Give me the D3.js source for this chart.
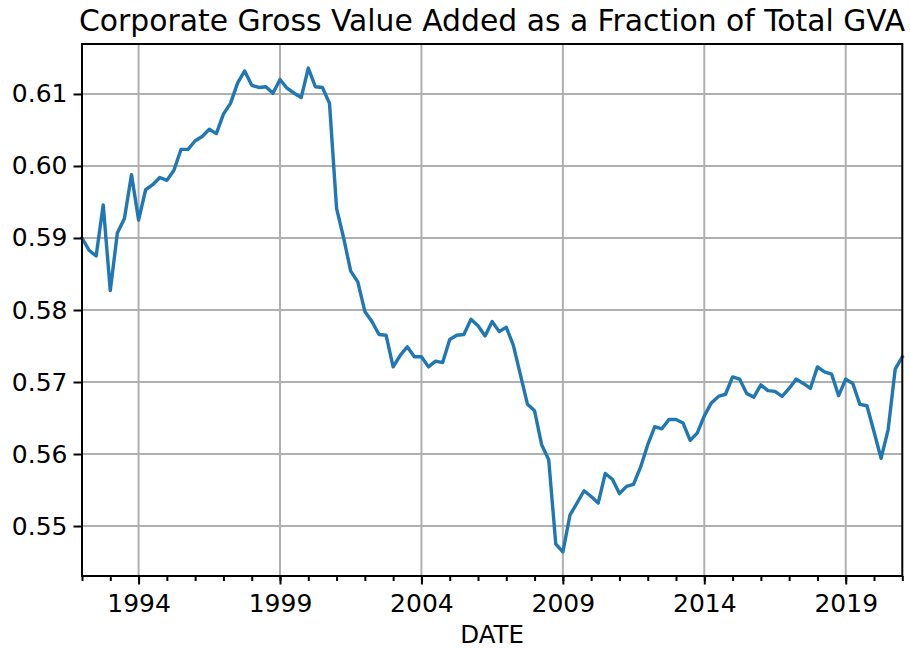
<!DOCTYPE html>
<html>
<head>
<meta charset="utf-8">
<script src="https://cdn.jsdelivr.net/npm/d3@7/dist/d3.min.js"></script>
<style>
  html, body { margin: 0; padding: 0; background: #fff; }
  svg { display: block; }
  text { font-family: "DejaVu Sans", sans-serif; fill: #000; }
</style>
</head>
<body>
<svg id="chart" width="910" height="649"></svg>
<script>
// Quarterly data, 1992Q1 .. 2021Q1
const startYear = 1992;
const values = [
  0.5900, 0.5883, 0.5875, 0.5946, 0.5827, 0.5907, 0.5927, 0.5988,
  0.5925, 0.5967, 0.5974, 0.5984, 0.5980, 0.5994, 0.6023, 0.6023,
  0.6035, 0.6041, 0.6051, 0.6045, 0.6072, 0.6087, 0.6115, 0.6132,
  0.6112, 0.6109, 0.6110, 0.6101, 0.6120, 0.6108, 0.6101, 0.6095,
  0.6136, 0.6110, 0.6109, 0.6087, 0.5941, 0.5900, 0.5854, 0.5839,
  0.5798, 0.5784, 0.5766, 0.5765, 0.5721, 0.5737, 0.5749, 0.5735,
  0.5735, 0.5721, 0.5729, 0.5727, 0.5759, 0.5765, 0.5766, 0.5787,
  0.5778, 0.5764, 0.5784, 0.5770, 0.5776, 0.5751, 0.5710, 0.5669,
  0.5660, 0.5613, 0.5592, 0.5475, 0.5464, 0.5515, 0.5532, 0.5549,
  0.5541, 0.5532, 0.5573, 0.5565, 0.5545, 0.5555, 0.5558, 0.5582,
  0.5613, 0.5638, 0.5635, 0.5648, 0.5648, 0.5643, 0.5619, 0.5629,
  0.5653, 0.5671, 0.5680, 0.5683, 0.5707, 0.5704, 0.5684, 0.5679,
  0.5696, 0.5688, 0.5687, 0.5680, 0.5691, 0.5704, 0.5698, 0.5691,
  0.5721, 0.5714, 0.5711, 0.5681, 0.5704, 0.5698, 0.5669, 0.5667,
  0.5631, 0.5594, 0.5634, 0.5718, 0.5735
];
const dates = values.map((v, i) => startYear + i / 4);
const xMajorTicks = [1994, 1999, 2004, 2009, 2014, 2019];
const xMinorTicks = d3.range(1992, 2022);
const yTicks = [0.55, 0.56, 0.57, 0.58, 0.59, 0.60, 0.61];
const titleText = "Corporate Gross Value Added as a Fraction of Total GVA";
const xLabelText = "DATE";

const svg = d3.select("#chart");
const L = 82, R = 902.3, T = 44, B = 576;

const x = d3.scaleLinear().domain([dates[0], dates[dates.length - 1]]).range([L, R]);
const y = d3.scaleLinear().domain([0.54306, 0.61694]).range([B, T]);

// grid
const g = svg.append("g");
g.selectAll("line.vg").data(xMajorTicks).enter().append("line")
  .attr("x1", d => x(d)).attr("x2", d => x(d)).attr("y1", T).attr("y2", B)
  .attr("stroke", "#b0b0b0").attr("stroke-width", 2);
g.selectAll("line.hg").data(yTicks).enter().append("line")
  .attr("x1", L).attr("x2", R).attr("y1", d => y(d)).attr("y2", d => y(d))
  .attr("stroke", "#b0b0b0").attr("stroke-width", 2);

// line
const line = d3.line().x((d, i) => x(dates[i])).y(d => y(d));
svg.append("path").datum(values)
  .attr("d", line).attr("fill", "none")
  .attr("stroke", "#1f77b4").attr("stroke-width", 3.4)
  .attr("stroke-linejoin", "round").attr("stroke-linecap", "square");

// axes
const xAxis = d3.axisBottom(x).tickValues(xMajorTicks).tickFormat(d3.format("d"))
  .tickSize(8.5).tickPadding(10);
const xMinor = d3.axisBottom(x).tickValues(xMinorTicks).tickFormat("").tickSize(5);
const yAxis = d3.axisLeft(y).tickValues(yTicks).tickFormat(d3.format(".2f"))
  .tickSize(8.5).tickPadding(6);

function styleAxis(sel) {
  sel.select(".domain").remove();
  sel.selectAll(".tick line").attr("stroke", "#000").attr("stroke-width", 2);
  sel.selectAll(".tick text").attr("font-family", "DejaVu Sans").attr("font-size", 25).attr("fill", "#000");
}
svg.append("g").attr("transform", `translate(0,${B})`).call(xMinor).call(styleAxis);
svg.append("g").attr("transform", `translate(0,${B})`).call(xAxis).call(styleAxis);
svg.append("g").attr("transform", `translate(${L},0)`).call(yAxis).call(styleAxis);

// spines
svg.append("rect").attr("x", L).attr("y", T).attr("width", R - L).attr("height", B - T)
  .attr("fill", "none").attr("stroke", "#000").attr("stroke-width", 2);

// title & label
svg.append("text").attr("x", (L + R) / 2).attr("y", 31).attr("text-anchor", "middle")
  .attr("font-size", 29.8).text(titleText);
svg.append("text").attr("x", (L + R) / 2).attr("y", 643).attr("text-anchor", "middle")
  .attr("font-size", 24.5).text(xLabelText);
</script>
</body>
</html>
